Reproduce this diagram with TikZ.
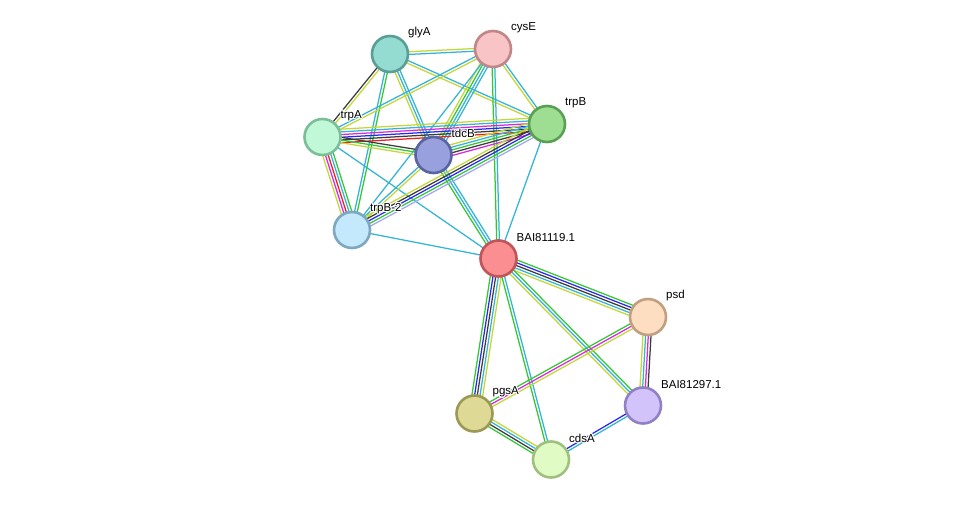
\documentclass[tikz,border=0pt]{standalone}
\usepackage{fontspec}
\setmainfont{Liberation Sans}
\usepackage{contour}
\contourlength{0.9pt}
\usetikzlibrary{calc,backgrounds}
\definecolor{sgreen}{RGB}{52,199,52}
\definecolor{sred}{RGB}{240,30,30}
\definecolor{sblue}{RGB}{40,40,240}
\definecolor{sblack}{RGB}{60,60,60}
\definecolor{smag}{RGB}{220,40,220}
\definecolor{scyan}{RGB}{50,180,215}
\definecolor{syel}{RGB}{195,215,55}
\definecolor{slav}{RGB}{165,165,245}
\newcommand\stredge[3]{%
  \def\nn{0}%
  \foreach \col in {#3}{\pgfmathtruncatemacro\tmpn{\nn+1}\global\let\nn\tmpn}%
  \begin{pgfonlayer}{background}
  \foreach \col [count=\i] in {#3}{%
    \pgfmathsetmacro\off{(\i-(\nn+1)/2)*2.7}%
    \draw[edgeline,color=\col] ($(#1.center)!\off pt!90:(#2.center)$) -- ($(#2.center)!\off pt!-90:(#1.center)$);
  }%
  \end{pgfonlayer}%
}
\tikzset{
  prot/.style={circle,minimum size=36pt,inner sep=0pt,line width=2.6pt},
  edgeline/.style={line width=1.25pt},
  lab/.style={anchor=west,inner sep=0pt,font=\fontsize{11.5}{13}\selectfont},
}
\newcommand\plabel[2]{\node[lab] (#1-l) at ($(#1.center)+(18,-21)$) {\contour{white}{#2}};}
\begin{document}
\begin{tikzpicture}[x=1pt,y=-1pt]
\useasboundingbox (0,0) rectangle (975,505);
\node[prot,fill={rgb,255:red,148;green,220;blue,210},draw={rgb,255:red,90;green,158;blue,150}] (glyA) at (390,54) {};
\node[prot,fill={rgb,255:red,248;green,196;blue,198},draw={rgb,255:red,192;green,134;blue,136}] (cysE) at (493,49) {};
\node[prot,fill={rgb,255:red,158;green,222;blue,146},draw={rgb,255:red,90;green,160;blue,84}] (trpB) at (547,124) {};
\node[prot,fill={rgb,255:red,192;green,248;blue,216},draw={rgb,255:red,124;green,190;blue,152}] (trpA) at (322.5,137) {};
\node[prot,fill={rgb,255:red,152;green,160;blue,222},draw={rgb,255:red,90;green,100;blue,160}] (tdcB) at (433.5,155) {};
\node[prot,fill={rgb,255:red,196;green,232;blue,252},draw={rgb,255:red,125;green,168;blue,192}] (trpBii) at (352,230) {};
\node[prot,fill={rgb,255:red,250;green,142;blue,144},draw={rgb,255:red,192;green,84;blue,88}] (bai19) at (498.5,258.5) {};
\node[prot,fill={rgb,255:red,254;green,222;blue,192},draw={rgb,255:red,192;green,160;blue,128}] (psd) at (648,317) {};
\node[prot,fill={rgb,255:red,210;green,196;blue,250},draw={rgb,255:red,146;green,128;blue,196}] (bai97) at (643,405.5) {};
\node[prot,fill={rgb,255:red,222;green,218;blue,150},draw={rgb,255:red,156;green,152;blue,86}] (pgsA) at (474.5,413.5) {};
\node[prot,fill={rgb,255:red,224;green,252;blue,196},draw={rgb,255:red,160;green,192;blue,128}] (cdsA) at (551,459.5) {};
\plabel{glyA}{glyA}
\plabel{cysE}{cysE}
\plabel{trpB}{trpB}
\plabel{trpA}{trpA}
\plabel{tdcB}{tdcB}
\plabel{trpBii}{trpB-2}
\plabel{bai19}{BAI81119.1}
\plabel{psd}{psd}
\plabel{bai97}{BAI81297.1}
\plabel{pgsA}{pgsA}
\plabel{cdsA}{cdsA}
\begin{pgfonlayer}{background}
\fill[white] (0,0) rectangle (975,505);
\end{pgfonlayer}
\stredge{glyA}{cysE}{scyan,syel}
\stredge{glyA}{trpB}{syel,scyan}
\stredge{glyA}{trpA}{sblack,syel}
\stredge{glyA}{tdcB}{syel,scyan,scyan}
\stredge{glyA}{trpBii}{scyan,sgreen}
\stredge{cysE}{trpA}{scyan,syel}
\stredge{cysE}{tdcB}{syel,sgreen,scyan,scyan}
\stredge{cysE}{trpBii}{scyan}
\stredge{cysE}{trpB}{syel,scyan}
\stredge{cysE}{bai19}{sgreen,scyan}
\stredge{trpA}{trpB}{sred,sblack,sblue,smag,scyan,syel}
\stredge{trpA}{tdcB}{syel,sgreen,sblack}
\stredge{trpA}{trpBii}{syel,smag,sred,scyan,sgreen}
\stredge{trpA}{bai19}{scyan}
\stredge{tdcB}{trpB}{smag,sblack,sgreen,scyan,syel}
\stredge{tdcB}{trpBii}{scyan,syel}
\stredge{tdcB}{bai19}{sgreen,scyan,scyan}
\stredge{trpB}{trpBii}{syel,sblack,sblue,sgreen,slav}
\stredge{trpB}{bai19}{scyan}
\stredge{trpBii}{bai19}{scyan}
\stredge{bai19}{psd}{syel,scyan,sblack,sblue,sgreen}
\stredge{bai19}{bai97}{syel,scyan,sgreen}
\stredge{bai19}{pgsA}{sgreen,sblue,sblack,scyan,syel}
\stredge{bai19}{cdsA}{sgreen,scyan}
\stredge{psd}{pgsA}{sgreen,smag,syel}
\stredge{psd}{bai97}{syel,scyan,smag,sblack}
\stredge{pgsA}{cdsA}{sgreen,sblack,scyan,syel}
\stredge{cdsA}{bai97}{scyan,sblue}
\end{tikzpicture}
\end{document}
